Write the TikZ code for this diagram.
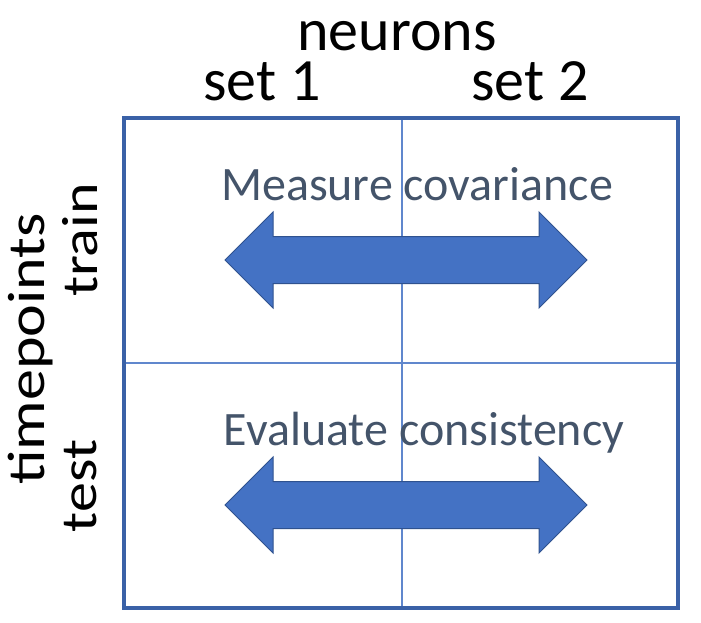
\documentclass[tikz,border=0pt]{standalone}
\usepackage{fontspec}
\setmainfont{Carlito}
\usepackage{xcolor}
\usepackage{graphicx}
\usetikzlibrary{positioning}

\definecolor{gridblue}{HTML}{4472C4}
\definecolor{edgeblue}{HTML}{2F528F}
\definecolor{textslate}{HTML}{44546A}

\newcommand{\squat}[1]{\scalebox{1}[0.85]{#1}}

\begin{document}
\begin{tikzpicture}[x=1pt, y=-1pt,
        axislabel/.style={font=\fontsize{60}{72}\selectfont, inner sep=0pt, anchor=base},
        celltext/.style={font=\fontsize{48}{58}\selectfont, text=textslate, inner sep=0pt, anchor=base},
        bigarrow/.style={fill=gridblue, draw=edgeblue, line width=1pt, line join=miter}]
        \useasboundingbox (0,0) rectangle (701,622);

        % grid
        \coordinate (nw) at (124,118);
        \coordinate (se) at (678,608);
        \draw[gridblue!85!white, line width=1.3pt] (402,118) -- (402,608)
                                                   (124,363) -- (678,363);
        \draw[gridblue!85!black, line width=3.2pt] (nw) rectangle (se);

        % axis labels
        \node[axislabel] (neurons) at (397,50) {neurons};
        \node[axislabel] (set1) at (262,100) {set 1};
        \node[axislabel] (set2) at (530,100) {set 2};
        \node[axislabel, rotate=90, font=\fontsize{62}{74}\selectfont] (timepoints) at (44,349) {\squat{timepoints}};
        \node[axislabel, rotate=90] (train) at (97,240) {\squat{train}};
        \node[axislabel, rotate=90] (test) at (96,486) {\squat{test}};

        % cell texts
        \node[celltext] (measure) at (417,200) {Measure covariance};
        \node[celltext] (evaluate) at (424,445) {Evaluate consistency};

        % double arrows
        \foreach \yc in {260,505}
            \draw[bigarrow] (225,\yc) -- (273,{\yc-48}) -- (273,{\yc-23.5}) -- (539,{\yc-23.5})
                -- (539,{\yc-48}) -- (587,\yc) -- (539,{\yc+48}) -- (539,{\yc+23.5})
                -- (273,{\yc+23.5}) -- (273,{\yc+48}) -- cycle;
\end{tikzpicture}
\end{document}
